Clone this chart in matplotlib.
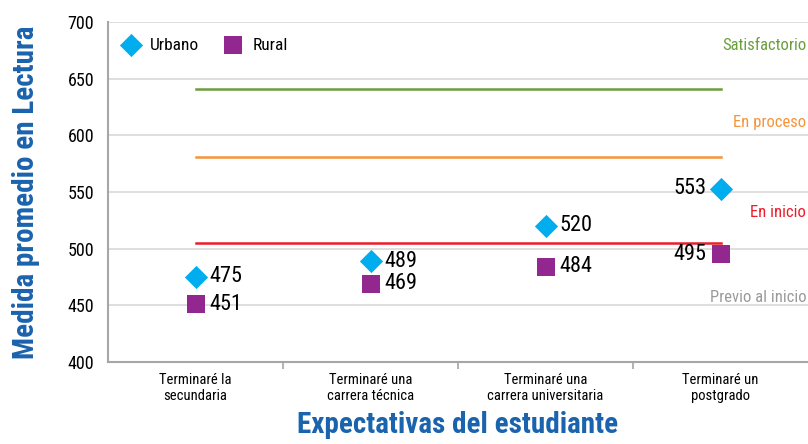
import matplotlib.pyplot as plt
from matplotlib import font_manager

names = {f.name for f in font_manager.fontManager.ttflist}
opciones = ['Roboto Condensed', 'Archivo Narrow', 'PT Sans Narrow', 'Arial Narrow',
            'Liberation Sans Narrow', 'Fira Sans Condensed', 'Pragati Narrow', 'Roboto']
base = next((f for f in opciones if f in names), 'DejaVu Sans')
plt.rcParams['font.family'] = [base, 'DejaVu Sans']

categorias = ['Terminaré la\nsecundaria', 'Terminaré una\ncarrera técnica',
              'Terminaré una\ncarrera universitaria', 'Terminaré un\npostgrado']
urbano = [475, 489, 520, 553]
rural = [451, 469, 484, 495]

niveles = ['Satisfactorio', 'En proceso', 'En inicio', 'Previo al inicio']
cortes = [641, 581, 505]
color_nivel = ['#6a9e3b', '#f7943a', '#ec1c2a', '#9a9a9a']
alto_etiqueta = [679, 611, 532, 457]

azul = '#00aeef'
morado = '#92278f'
titulo = '#1a63ad'

fig = plt.figure(figsize=(8.08, 4.44), dpi=100)
ax = fig.add_axes([0.1337, 0.1847, 0.8663, 0.7658])

x = list(range(len(categorias)))
for c, col in zip(cortes, color_nivel[:3]):
    ax.plot([0, 3], [c, c], color=col, lw=1.8, zorder=2)

ax.scatter(x, urbano, marker='D', s=140, color=azul, zorder=4, label='Urbano', linewidths=0)
ax.scatter(x, rural, marker='s', s=170, color=morado, zorder=4, label='Rural', linewidths=0)

for i in x:
    if i < 3:
        ax.text(i + 0.08, urbano[i], str(urbano[i]), fontsize=16, va='center', ha='left')
        ax.text(i + 0.08, rural[i], str(rural[i]), fontsize=16, va='center', ha='left')
    else:
        ax.text(i - 0.08, urbano[i], str(urbano[i]), fontsize=16, va='center', ha='right')
        ax.text(i - 0.08, rural[i], str(rural[i]), fontsize=16, va='center', ha='right')

for nombre, col, py in zip(niveles, color_nivel, alto_etiqueta):
    ax.text(3.49, py, nombre, color=col, fontsize=12, va='center', ha='right')

ax.set_xlim(-0.5, 3.5)
ax.set_ylim(400, 700)
ax.set_yticks(range(400, 701, 50))
ax.yaxis.grid(True, color='#d9d9d9', lw=1.2)
ax.set_axisbelow(True)
ax.tick_params(axis='y', length=0, pad=10, labelsize=13)
ax.set_xticks(x)
ax.set_xticklabels(categorias, fontsize=10.5, linespacing=1.15)
ax.set_xticks([0.5, 1.5, 2.5], minor=True)
ax.tick_params(axis='x', which='major', length=0, pad=8)
ax.tick_params(axis='x', which='minor', length=5, color='#a6a6a6', width=1.2)
for s in ['top', 'right']:
    ax.spines[s].set_visible(False)
for s in ['left', 'bottom']:
    ax.spines[s].set_color('#a6a6a6')
    ax.spines[s].set_linewidth(1.5)

ax.set_ylabel('Medida promedio en Lectura', fontsize=21, fontweight='bold', color=titulo, labelpad=20)
ax.set_xlabel('Expectativas del estudiante', fontsize=21, fontweight='bold', color=titulo, labelpad=6)

ax.legend(loc='upper left', ncol=2, frameon=False, fontsize=12.5, handletextpad=0.1,
          columnspacing=1.0, bbox_to_anchor=(-0.015, 1.0), scatterpoints=1)

fig.savefig('out.png', dpi=100)
